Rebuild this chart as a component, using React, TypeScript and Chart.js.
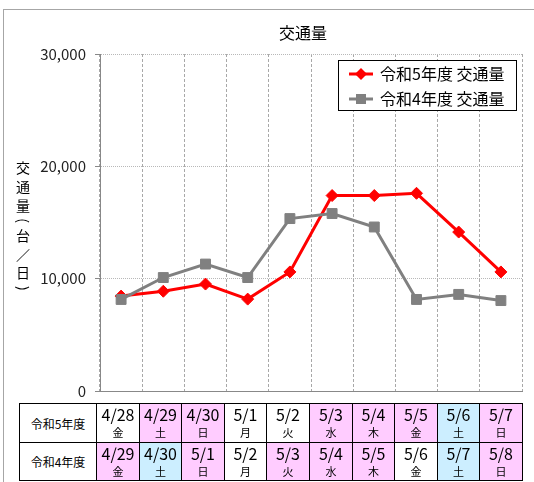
import React, { useEffect, useRef } from "react";
import { Chart, registerables } from "chart.js";

Chart.register(...registerables);

// ---- data ----
const categories = ["4/28", "4/29", "4/30", "5/1", "5/2", "5/3", "5/4", "5/5", "5/6", "5/7"];
const seriesR5Label = "令和5年度 交通量";
const seriesR4Label = "令和4年度 交通量";
const seriesR5 = [8450, 8880, 9520, 8180, 10600, 17400, 17400, 17600, 14150, 10600];
const seriesR4 = [8150, 10100, 11300, 10100, 15350, 15800, 14600, 8150, 8600, 8050];
const yMin = 0;
const yMax = 30000;
const yStep = 10000;
const chartTitle = "交通量";
const yTitleChars = ["交", "通", "量", "(", "台", "／", "日", ")"];

const rowLabels = ["令和5年度", "令和4年度"];
const r5Dates = ["4/28", "4/29", "4/30", "5/1", "5/2", "5/3", "5/4", "5/5", "5/6", "5/7"];
const r5Days = ["金", "土", "日", "月", "火", "水", "木", "金", "土", "日"];
const r5Kinds = ["w", "h", "h", "w", "w", "h", "h", "h", "s", "h"];
const r4Dates = ["4/29", "4/30", "5/1", "5/2", "5/3", "5/4", "5/5", "5/6", "5/7", "5/8"];
const r4Days = ["金", "土", "日", "月", "火", "水", "木", "金", "土", "日"];
const r4Kinds = ["h", "s", "h", "w", "h", "h", "h", "w", "s", "h"];

const KIND_COLORS: Record<string, string> = { w: "#ffffff", h: "#ffccff", s: "#cceeff" };
const JP = '"Noto Sans CJK JP", "Noto Sans", sans-serif';
const RED = "#ff0000";
const GRAY = "#808080";

const overlayPlugin = {
  id: "overlay",
  afterDraw(chart: any) {
    const ctx = chart.ctx as CanvasRenderingContext2D;
    ctx.save();
    // title
    ctx.fillStyle = "#000";
    ctx.font = `16px ${JP}`;
    ctx.textAlign = "center";
    ctx.textBaseline = "middle";
    ctx.fillText(chartTitle, 303, 33);

    // vertical y-axis title
    ctx.font = `14px ${JP}`;
    let y = 168;
    const half = (c: string) => (c === "(" || c === ")" ? 6 : 9.3);
    yTitleChars.forEach((c, i) => {
      if (i > 0) y += half(yTitleChars[i - 1]) + half(c);
      if (c === "(" || c === ")") {
        ctx.save();
        ctx.translate(23, y);
        ctx.rotate(Math.PI / 2);
        ctx.fillText(c, 0, 0);
        ctx.restore();
      } else {
        ctx.fillText(c, 23, y);
      }
    });

    // legend
    const bx = 338.5, by = 60.5, bw = 178, bh = 50;
    ctx.fillStyle = "#fff";
    ctx.fillRect(bx, by, bw, bh);
    ctx.strokeStyle = "#000";
    ctx.lineWidth = 1;
    ctx.strokeRect(bx, by, bw, bh);
    const items = [
      { label: seriesR5Label, color: RED, style: "diamond", y: 74 },
      { label: seriesR4Label, color: GRAY, style: "square", y: 99 },
    ];
    items.forEach((it) => {
      ctx.strokeStyle = it.color;
      ctx.lineWidth = 3;
      ctx.beginPath();
      ctx.moveTo(349, it.y);
      ctx.lineTo(373, it.y);
      ctx.stroke();
      ctx.fillStyle = it.color;
      ctx.beginPath();
      if (it.style === "diamond") {
        ctx.moveTo(361, it.y - 6);
        ctx.lineTo(367, it.y);
        ctx.lineTo(361, it.y + 6);
        ctx.lineTo(355, it.y);
        ctx.closePath();
      } else {
        ctx.rect(356, it.y - 5, 10, 10);
      }
      ctx.fill();
      ctx.fillStyle = "#000";
      ctx.font = `16px ${JP}`;
      ctx.textAlign = "left";
      ctx.textBaseline = "middle";
      ctx.fillText(it.label, 380, it.y);
    });
    ctx.restore();
  },
};

function Table() {
  const left = 19;
  const top = 403;
  const firstW = 77;
  const colW = 42.6;
  const rowH = 38.5;
  const rows = [
    { label: rowLabels[0], dates: r5Dates, days: r5Days, kinds: r5Kinds },
    { label: rowLabels[1], dates: r4Dates, days: r4Days, kinds: r4Kinds },
  ];
  const cells: React.ReactNode[] = [];
  rows.forEach((r, ri) => {
    const y0 = Math.round(top + ri * rowH);
    const y1 = Math.round(top + (ri + 1) * rowH);
    cells.push(
      <div
        key={`l${ri}`}
        style={{
          position: "absolute",
          left,
          top: y0,
          width: firstW + 1,
          height: y1 - y0 + 1,
          boxSizing: "border-box",
          border: "1px solid #000",
          background: "#fff",
          display: "flex",
          alignItems: "center",
          justifyContent: "center",
          font: `12px ${JP}`,
          color: "#000",
        }}
      >
        {r.label}
      </div>
    );
    r.dates.forEach((d, ci) => {
      const x0 = Math.round(left + firstW + ci * colW);
      const x1 = Math.round(left + firstW + (ci + 1) * colW);
      cells.push(
        <div
          key={`c${ri}_${ci}`}
          style={{
            position: "absolute",
            left: x0,
            top: y0,
            width: x1 - x0 + 1,
            height: y1 - y0 + 1,
            boxSizing: "border-box",
            border: "1px solid #000",
            background: KIND_COLORS[r.kinds[ci]],
            color: "#000",
          }}
        >
          <div
            style={{
              position: "absolute",
              left: 0,
              right: 0,
              top: 0,
              height: 20,
              textAlign: "center",
              font: `16px ${JP}`,
              lineHeight: "20px",
            }}
          >
            {d}
          </div>
          <div
            style={{
              position: "absolute",
              left: 0,
              right: 0,
              top: 21,
              height: 14,
              textAlign: "center",
              font: `11px ${JP}`,
              lineHeight: "14px",
            }}
          >
            {r.days[ci]}
          </div>
        </div>
      );
    });
  });
  return <>{cells}</>;
}

export default function App() {
  const canvasRef = useRef<HTMLCanvasElement | null>(null);

  useEffect(() => {
    const canvas = canvasRef.current;
    if (!canvas) return;
    const chart = new Chart(canvas, {
      type: "line",
      data: {
        labels: categories,
        datasets: [
          {
            label: seriesR5Label,
            data: seriesR5,
            borderColor: RED,
            backgroundColor: RED,
            borderWidth: 3,
            pointStyle: "rectRot",
            pointRadius: 6,
            pointBorderWidth: 1,
            pointBackgroundColor: RED,
            pointBorderColor: RED,
            tension: 0,
            order: 1,
          },
          {
            label: seriesR4Label,
            data: seriesR4,
            borderColor: GRAY,
            backgroundColor: GRAY,
            borderWidth: 3,
            pointStyle: "rect",
            pointRadius: 7,
            pointBorderWidth: 1,
            pointBackgroundColor: GRAY,
            pointBorderColor: GRAY,
            tension: 0,
            order: 0,
          },
        ],
      },
      options: {
        responsive: false,
        animation: false,
        devicePixelRatio: 1,
        layout: { padding: { left: 0, right: 12, top: 54, bottom: 91 } },
        plugins: {
          legend: { display: false },
          title: { display: false },
          tooltip: { enabled: false },
        },
        scales: {
          x: {
            type: "category",
            offset: true,
            grid: { offset: true, color: "#a8a8a8", drawTicks: false, tickLength: 0 },
            border: { display: true, color: "#888888", dash: [3, 2] },
            ticks: { display: false },
            afterFit: (s: any) => {
              s.height = 0;
            },
          },
          y: {
            min: yMin,
            max: yMax,
            ticks: {
              stepSize: yStep,
              padding: 9,
              color: "#222",
              font: { family: JP, size: 15 },
              callback: (v: any) => Number(v).toLocaleString("en-US"),
            },
            grid: { color: "#b8b8b8", tickLength: 5, tickColor: "#888888" },
            border: { display: true, color: "#888888", dash: [1, 1] },
            afterFit: (s: any) => {
              s.width = 100;
            },
          },
        },
      },
      plugins: [overlayPlugin],
    } as any);
    return () => chart.destroy();
  }, []);

  return (
    <div
      style={{
        position: "fixed",
        left: 0,
        top: 0,
        width: 534,
        height: 482,
        overflow: "hidden",
        background: "#fff",
      }}
    >
      <div
        style={{
          position: "absolute",
          left: 3,
          top: 9,
          width: 700,
          height: 700,
          border: "1px solid #a6a6a6",
        }}
      />
      <canvas
        ref={canvasRef}
        width={534}
        height={482}
        style={{ position: "absolute", left: 0, top: 0, width: 534, height: 482 }}
      />
      <Table />
    </div>
  );
}
